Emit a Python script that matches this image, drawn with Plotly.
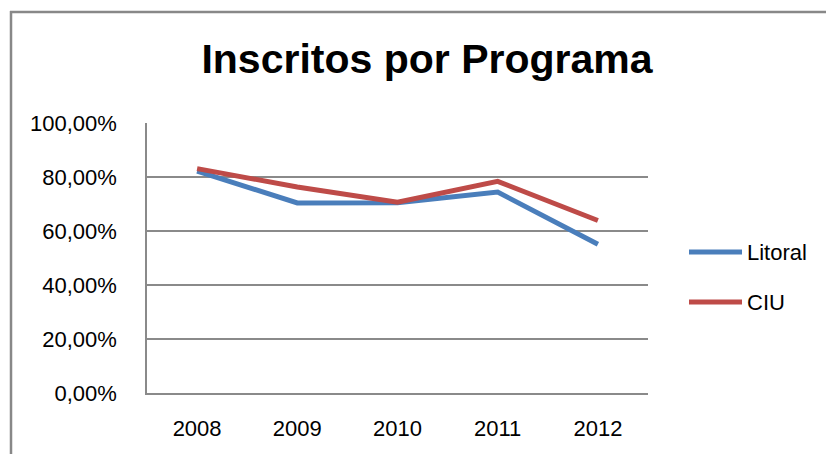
import plotly.graph_objects as go

years = ["2008", "2009", "2010", "2011", "2012"]
litoral = [0.822, 0.704, 0.705, 0.744, 0.551]
ciu = [0.831, 0.763, 0.707, 0.784, 0.639]
series_names = ["Litoral", "CIU"]
colors = ["#4A7EBB", "#BE4B48"]
title_text = "Inscritos por Programa"

FONT = "Liberation Sans, Arial, sans-serif"
GRID = "#8a8a8a"

fig = go.Figure()
for name, vals, col in zip(series_names, [litoral, ciu], colors):
    fig.add_trace(go.Scatter(x=years, y=vals, mode="lines", name=name,
                             line=dict(color=col, width=5), showlegend=False))

# plot area geometry (px) for positioning decorations
L, R, T, B = 147, 648, 123, 393
W, H = R - L, B - T
def px(x):
    return (x - L) / W
def py(y):
    return (B - y) / H

shapes = [
    # outer chart frame (left and top edges)
    dict(type="line", xref="paper", yref="paper", x0=px(11), x1=px(11), y0=py(11), y1=py(470),
         line=dict(color="#888888", width=2.5)),
    dict(type="line", xref="paper", yref="paper", x0=px(10), x1=px(840), y0=py(12), y1=py(12),
         line=dict(color="#888888", width=2.5)),
]
annotations = []
legend_y = [252, 302]
for name, col, yy in zip(series_names, colors, legend_y):
    shapes.append(dict(type="line", xref="paper", yref="paper", x0=px(689), x1=px(742),
                       y0=py(yy), y1=py(yy), line=dict(color=col, width=5)))
    annotations.append(dict(xref="paper", yref="paper", x=px(745), y=py(yy), text=name,
                            showarrow=False, xanchor="left", yanchor="middle",
                            font=dict(family=FONT, size=22, color="#000000")))

fig.update_layout(
    width=826, height=454,
    margin=dict(l=L, r=826 - R, t=T, b=454 - B),
    paper_bgcolor="white", plot_bgcolor="white",
    separators=",.",
    title=dict(text=f"<b>{title_text}</b>", x=427 / 826, xanchor="center",
               y=(454 - 59) / 454, yanchor="middle", yref="container",
               font=dict(family=FONT, size=41, color="#000000")),
    shapes=shapes, annotations=annotations,
    showlegend=False,
)
fig.update_xaxes(type="category", range=[-0.5, 4.5], showgrid=False, showline=True,
                 linecolor=GRID, linewidth=1.5, ticks="", ticklabelstandoff=15,
                 tickfont=dict(family=FONT, size=22, color="#000000"))
fig.update_yaxes(range=[0, 1], dtick=0.2, tickformat=".2%", showgrid=True, gridcolor=GRID,
                 gridwidth=1.5, showline=True, linecolor=GRID, linewidth=1.5, ticks="",
                 zeroline=False, ticklabelstandoff=24,
                 tickfont=dict(family=FONT, size=22, color="#000000"))

fig.write_html("out.html", config={"displayModeBar": False},
               post_script="document.body.style.margin='0';document.body.style.overflow='hidden';")
